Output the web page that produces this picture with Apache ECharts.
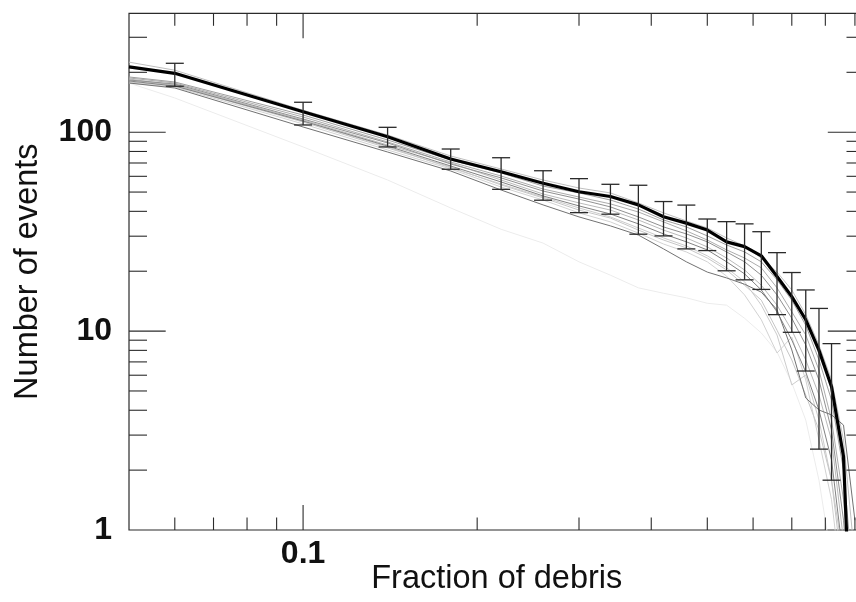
<!DOCTYPE html>
<html><head><meta charset="utf-8">
<script src="https://cdn.jsdelivr.net/npm/echarts@6/dist/echarts.min.js"></script>
<style>html,body{margin:0;padding:0;background:#fff}#c{width:856px;height:602px}</style>
</head><body><div id="c"></div>
<script>
// ---------- data ----------
const xGrid = [0.05,0.06,0.10,0.14,0.18,0.22,0.26,0.30,0.34,0.38,0.42,0.46,0.50,0.54,0.58,0.62,0.66,0.70,0.74,0.78,0.82,0.86,0.90];
const mainX = [0.05,0.06,0.10,0.14,0.18,0.22,0.26,0.30,0.34,0.38,0.42,0.46,0.50,0.54,0.58,0.62,0.66,0.70,0.74,0.78,0.82,0.86,0.88];
const mainY = [213,197.7,126.8,94.9,73.3,63.3,55.4,50.2,47.5,43.1,37.6,34.9,32.2,28.1,26.6,23.9,18.8,14.9,11.4,8.0,5.25,2.34,0.45];

const errX    = [0.06,0.10,0.14,0.18,0.22,0.26,0.30,0.34,0.38,0.42,0.46,0.50,0.54,0.58,0.62,0.66,0.70,0.74,0.78,0.82];
const errHigh = [222,141.4,105.8,82.3,74.4,64.0,58.4,54.7,54.1,44.8,43.0,36.6,35.5,34.6,31.6,24.8,19.7,16.1,13.0,8.65];
const errLow  = [170.2,108.7,84.3,65.1,51.6,45.5,39.4,38.7,30.7,30.1,25.9,25.4,20.1,18.1,16.2,12.1,9.86,6.30,2.55,1.78];

const gray1  = [225,205,129,96.8,75.9,65.3,57.5,52.4,49.5,44.1,39.3,35.8,33.0,29.4,26.8,23.3,19.8,16.1,12.1,8.51,5.68,2.83,0.71];
const gray2  = [189.5,178.8,122.0,91.4,72.5,62.4,53.6,49.5,45.6,41.1,36.2,33.4,30.1,27.1,25.0,22.3,18.1,14.3,10.7,7.16,4.50,2.00,0.44];
const gray3  = [187.3,176.7,119.2,89.3,70.8,60.2,51.8,47.2,43.6,39.7,35.4,31.9,28.7,25.6,23.3,20.8,16.5,12.5,9.56,6.37,3.57,1.42,0.35];
const gray4  = [182.9,174.7,116.5,88.3,69.2,58.9,50.6,46.1,42.1,37.5,33.4,30.8,28.1,25.0,22.3,19.1,15.2,11.6,8.51,5.68,3.18,1.12,0.25];
const gray5  = [185.1,172.7,115.2,86.2,70.0,57.5,48.9,44.1,40.6,36.2,32.2,29.4,26.5,23.3,20.3,17.0,13.5,10.1,7.16,4.77,2.83,0.89,0.25];
const gray6  = [180.9,170.7,113.8,85.2,67.6,56.2,47.8,42.6,38.8,34.6,30.8,28.1,25.6,22.3,19.4,16.1,12.5,9.02,6.23,4.01,2.25,0.71,0.14];
const gray7  = [178.8,170.7,112.5,83.3,66.8,54.3,46.7,40.6,37.0,32.2,28.7,26.2,23.3,20.3,17.0,14.3,10.1,7.16,4.77,3.18,1.78,0.56,0.14];
const gray8  = [176.7,168.7,110.0,81.4,65.3,53.0,45.6,39.3,35.4,31.1,27.4,25.0,22.3,18.9,15.2,11.4,7.76,9.34,5.68,2.83,1.42,0.44,0.14];
const gray9  = [182.9,172.7,113.8,84.3,66.1,54.9,47.2,41.6,37.5,33.0,29.4,26.8,23.9,20.8,17.7,13.5,9.56,5.36,6.02,3.57,1.78,0.71,0.14];
const gray10 = [176.7,166.8,106.2,79.5,63.8,51.2,43.1,37.5,33.8,30.4,25.9,22.3,19.8,18.5,17.2,15.7,12.8,8.04,4.61,4.01,3.79,3.37,1.12];
const gray11 = [176.7,148.6,84.3,57.5,41.6,32.5,27.7,22.3,19.1,16.5,15.5,14.7,13.8,13.5,11.6,9.78,7.85,5.49,3.57,1.78,0.71,0.30,0.10];
const grayLines  = [gray11,gray8,gray9,gray7,gray5,gray1,gray3,gray2,gray4,gray6,gray10];
const grayColors = ['#ececec','#d2d2d2','#cbcbcb','#c6c6c6','#bababa','#bfbfbf','#acacac','#9e9e9e','#909090','#828282','#727272'];

const xMajorTicks = [0.1];
const xMinorTicks = [0.06,0.07,0.08,0.09,0.2,0.3,0.4,0.5,0.6,0.7,0.8,0.9];
const yMajorTicks = [10,100];
const yMinorTicks = [2,3,4,5,6,7,8,9,20,30,40,50,60,70,80,90,200,300];
const xTickLabels = [0.1];
const yTickLabels = [1,10,100];

const X_MIN = 0.05, X_MAX = 0.935, Y_MIN = 1, Y_MAX = 396;

// ---------- chart ----------
const chart = echarts.init(document.getElementById('c'), null, {renderer:'canvas'});

const tickData = [];
xMajorTicks.forEach(v => tickData.push([v, Y_MIN, 0, 1]));
xMinorTicks.forEach(v => tickData.push([v, Y_MIN, 0, 0]));
yMajorTicks.forEach(v => tickData.push([X_MIN, v, 1, 1]));
yMinorTicks.forEach(v => tickData.push([X_MIN, v, 1, 0]));

const labelData = [];
xTickLabels.forEach(v => labelData.push([v, Y_MIN, 0]));
yTickLabels.forEach(v => labelData.push([X_MIN, v, 1]));

const FONT = '"Liberation Sans", Arial, Helvetica, sans-serif';
const tickStyle = {stroke:'#2b2b2b', lineWidth:1.1};

function renderTick(params, api) {
  const cs = params.coordSys;
  const p = api.coord([api.value(0), api.value(1)]);
  const kind = api.value(2), major = api.value(3);
  const bottom = cs.y + cs.height, right = cs.x + cs.width;
  if (kind === 0) {
    const L = major ? 25 : 12.5;
    return {type:'group', children:[
      {type:'line', shape:{x1:p[0], y1:bottom, x2:p[0], y2:bottom - L}, style:tickStyle},
      {type:'line', shape:{x1:p[0], y1:cs.y, x2:p[0], y2:cs.y + L}, style:tickStyle}
    ]};
  }
  const L = major ? 36.7 : 18;
  return {type:'group', children:[
    {type:'line', shape:{x1:cs.x, y1:p[1], x2:cs.x + L, y2:p[1]}, style:tickStyle},
    {type:'line', shape:{x1:right, y1:p[1], x2:right - L, y2:p[1]}, style:tickStyle}
  ]};
}

function renderLabel(params, api) {
  const cs = params.coordSys;
  const v0 = api.value(0), v1 = api.value(1), kind = api.value(2);
  const p = api.coord([v0, v1]);
  if (kind === 0) {
    return {type:'text', style:{text:String(v0), x:p[0], y:cs.y + cs.height + 8,
      textAlign:'center', textVerticalAlign:'top', font:'bold 32px ' + FONT, fill:'#111'}};
  }
  return {type:'text', style:{text:String(v1), x:cs.x - 17, y:p[1],
    textAlign:'right', textVerticalAlign:'middle', font:'bold 32px ' + FONT, fill:'#111'}};
}

function renderErr(params, api) {
  const x = api.value(0);
  const lo = api.coord([x, api.value(1)]);
  const hi = api.coord([x, api.value(2)]);
  const w = 9;
  const st = {stroke:'#2a2a2a', lineWidth:1.3};
  return {type:'group', children:[
    {type:'line', shape:{x1:lo[0], y1:lo[1], x2:hi[0], y2:hi[1]}, style:st},
    {type:'line', shape:{x1:hi[0]-w, y1:hi[1], x2:hi[0]+w, y2:hi[1]}, style:st},
    {type:'line', shape:{x1:lo[0]-w, y1:lo[1], x2:lo[0]+w, y2:lo[1]}, style:st}
  ]};
}

const series = [];
grayLines.forEach((arr, i) => {
  series.push({type:'line', data:xGrid.map((x, j) => [x, arr[j]]), symbol:'none', silent:true,
    clip:true, lineStyle:{color:grayColors[i], width:1}, z:2});
});
series.push({type:'line', data:mainX.map((x, j) => [x, mainY[j]]), symbol:'none', silent:true,
  clip:true, lineStyle:{color:'#000', width:3.2}, z:3});
series.push({type:'custom', renderItem:renderErr, data:errX.map((x, j) => [x, errLow[j], errHigh[j]]),
  encode:{x:0, y:[1,2]}, silent:true, z:4});
series.push({type:'custom', renderItem:renderTick, data:tickData, encode:{x:0, y:1}, silent:true, z:5});
series.push({type:'custom', renderItem:renderLabel, data:labelData, encode:{x:0, y:1}, silent:true, z:5});

chart.setOption({
  animation:false,
  backgroundColor:'#fff',
  grid:{left:129, top:13.3, width:735.5, height:516.7, show:true, borderColor:'#2b2b2b', borderWidth:1.2,
        containLabel:false, outerBoundsMode:'none'},
  xAxis:{type:'log', logBase:10, min:X_MIN, max:X_MAX,
    axisLine:{show:false}, axisTick:{show:false}, axisLabel:{show:false}, splitLine:{show:false},
    name:'Fraction of debris', nameLocation:'middle', nameGap:33,
    nameTextStyle:{fontFamily:FONT, fontSize:32.5, color:'#111'}},
  yAxis:{type:'log', logBase:10, min:Y_MIN, max:Y_MAX,
    axisLine:{show:false}, axisTick:{show:false}, axisLabel:{show:false}, splitLine:{show:false},
    name:'Number of events', nameLocation:'middle', nameGap:84, nameRotate:90,
    nameTextStyle:{fontFamily:FONT, fontSize:32.5, color:'#111'}},
  series:series
});
</script></body></html>
